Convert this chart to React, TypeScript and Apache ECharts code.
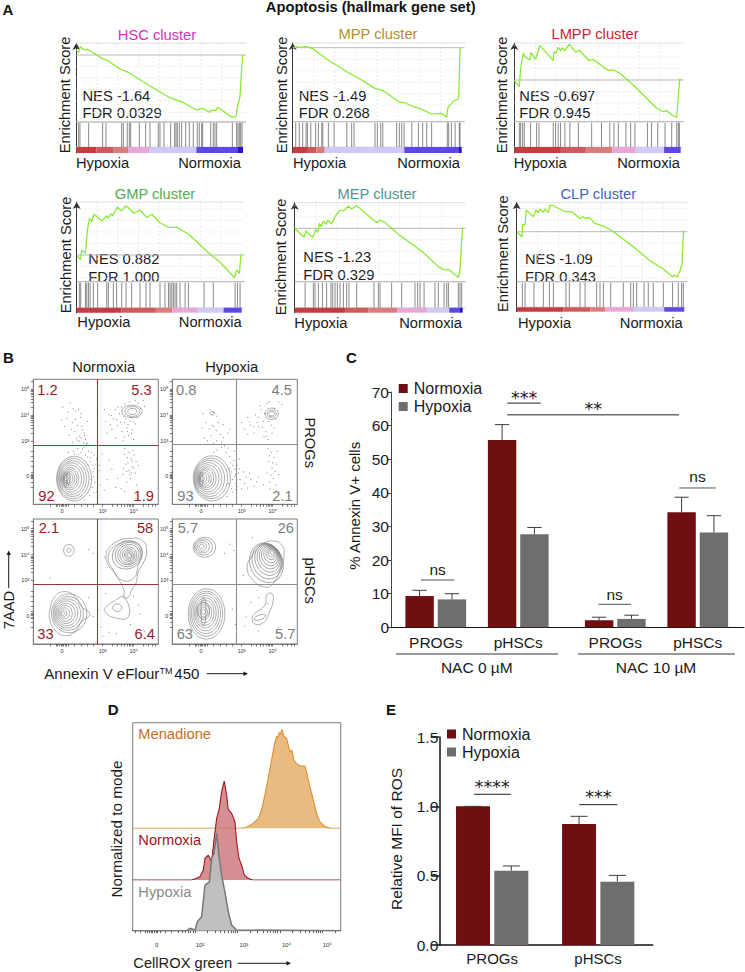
import React, { useEffect, useRef } from "react";
import * as echarts from "echarts";

const FONT = "Liberation Sans, Arial, sans-serif";
const RED = "#6f0f12";
const GREY = "#6e6e6e";

// ---------- Panel A: running enrichment scores [rank %, ES]
const hscCurve = [[0,.05],[1.4,.023],[2.4,.083],[4.6,.05],[6.6,.057],[10.2,.023],[15.2,-.033],[18.6,-.053],[26.2,-.14],[31.2,-.173],[40.2,-.267],[48.2,-.35],[56.2,-.427],[64.2,-.477],[72.2,-.55],[75.6,-.533],[79.8,-.573],[81,-.553],[83.8,-.553],[84.6,-.523],[88.2,-.56],[93.2,-.623],[95.8,-.613],[96.8,-.51],[98.2,-.417],[99,-.183],[99.8,0]];
const mppCurve = [[.4,0],[2.4,.01],[4.3,0],[7.3,.01],[10.3,0],[12.2,-.013],[20.1,-.113],[32,-.24],[41.8,-.333],[48.7,-.407],[53.6,-.43],[63.5,-.547],[66.5,-.55],[71.4,-.59],[75.3,-.607],[82.2,-.663],[88.2,-.657],[91.1,-.697],[91.9,-.597],[94.1,-.557],[95.5,-.53],[96.7,-.523],[98.2,-.513],[99,-.023],[99.4,0]];
const lmppCurve = [[0,-.007],[3,-.067],[3.8,.117],[5.4,.267],[6.4,.233],[9.4,.2],[10,.273],[12.8,.207],[15.4,.347],[23.4,.193],[23.8,.283],[25,.267],[26.4,.327],[27.8,.293],[29,.323],[30.4,.293],[33,.357],[37,.277],[39,.3],[45,.193],[47.4,.207],[55.9,.1],[59.9,.1],[63.9,.06],[71.5,-.05],[81.6,-.217],[85.6,-.283],[89.6,-.317],[91.6,-.307],[94.6,-.35],[97.6,-.373],[98.8,-.117],[99.4,.01],[100,0]];
const gmpCurve = [[.4,-.01],[2.4,-.047],[3,.05],[5.3,.017],[6.5,.25],[7.7,.367],[9.1,.333],[10.5,.407],[15.2,.34],[18.2,.393],[19.2,.367],[20.6,.413],[21.8,.393],[24.6,.477],[27.3,.44],[29.3,.487],[30.7,.483],[34.7,.417],[38.4,.45],[42.4,.373],[45.5,.407],[50.5,.323],[55.6,.277],[60.6,.277],[67.7,.21],[80.8,.007],[86.9,-.073],[95.6,-.227],[97,-.15],[98.6,-.183],[99.6,.007]];
const mepCurve = [[0,0],[5.6,-.09],[6.7,-.027],[10.7,-.093],[12.5,-.01],[13.7,-.04],[14.7,.05],[15.7,.017],[17.1,.073],[18.7,.04],[19.6,.083],[22,.043],[24,.117],[27,.183],[29,.173],[31.9,.22],[33.9,.193],[36.9,.227],[46.8,.083],[49.2,.057],[50.8,.083],[53.8,.057],[57.7,0],[62.7,-.073],[76.6,-.243],[85.5,-.383],[88.9,-.417],[91.5,-.41],[97.4,-.493],[98.4,-.417],[99.2,-.167],[100,.01]];
const clpCurve = [[0,0],[3.2,-.05],[3.6,.073],[5,.067],[5.6,.217],[10,.15],[11.5,.217],[12.9,.19],[13.9,.227],[15.9,.193],[16.9,.227],[18.9,.19],[19.9,.267],[21.9,.26],[26.8,.217],[28.8,.2],[32.8,.2],[37.8,.133],[39.8,.15],[40.8,.133],[43.3,.143],[46.7,.083],[52.7,.05],[57.7,0],[69.6,-.15],[79.5,-.29],[87.5,-.373],[93,-.45],[94.4,-.433],[95.8,-.45],[97.4,-.393],[98.6,-.327],[99.4,-.033],[99.8,.01]];

// gene hit positions (rank %)
const hscHits = [1.4,2.2,7.4,15.8,17.8,27.2,28.2,30.6,31.8,32.6,37.8,41.6,44.2,49.2,50.2,52.6,56.6,59,59.8,60.6,61.8,63.2,65.6,67.8,70.2,72.6,73.8,75.2,75.8,80.6,82.2,83.2,84.2,93.6,96.2,97,97.8,98.6,99.4];
const mppHits = [1.8,3.9,5.9,7.9,8.7,10.7,13.6,15.2,17.2,17.8,21.1,24.5,32,34.9,36.3,48.7,50.1,52.1,53.3,61.5,63.1,64.5,65.9,70.5,74.4,76.9,79.3,82.2,91.5,92.3,93.9,96.1,98.6,99];
const lmppHits = [3,3.8,5,6,9.8,13.4,14.8,23.4,24.8,26.4,27.8,30.4,33.4,38.5,46.5,52.4,57.4,59.9,62.5,67.1,69.9,72.5,80,82.5,86.2,90.6,94.6,97.6,98.6,99.2];
const gmpHits = [1.6,2.4,5.3,6.1,7.1,8.1,10.1,12.7,18.2,19.2,22.2,24.2,27.3,29.9,33.3,38.4,42,44.4,50.5,53.5,55.6,56.6,57.6,58.6,59.6,60.6,62.6,65.7,67.7,77.2,82.8,96,97.4,99];
const mepHits = [6.2,11.1,12.1,14.1,16.5,19,21.6,22.6,24,25.4,27,29,30.9,32.3,36.9,47.2,49.8,50.8,57.7,63.7,71.6,73.2,74.6,77,83.5,85.5,88.9,90.5,91.5,97.4,98.4,99.4];
const clpHits = [3.4,5,10.3,15.9,19.5,21.9,29.4,31.4,37.8,40.8,47.7,49.7,51.7,56.1,63.6,68,69.6,71.6,76,78.5,81.5,87.5,93,96.4,98.4,99.4];

// rank colour bar: [from %, to %, palette index]
const barPalette = ["#c63d3f", "#cf5a5c", "#da7d7d", "#e6a8d6", "#cfc9f8", "#5c48e2", "#2a12c6"];
const hscBar = [[0,12,0],[12,22,1],[22,31,2],[31,44,3],[44,72,4],[72,97,5],[97,100,6]];
const mppBar = [[0,9,0],[9,14,1],[14,19,2],[19,66,4],[66,98,5],[98,100,6]];
const lmppBar = [[0,28,0],[28,43,1],[43,59,2],[59,73,3],[73,90,4],[90,100,5]];
const gmpBar = [[0,27,0],[27,48,1],[48,58,2],[58,73,3],[73,89,4],[89,100,5]];
const mepBar = [[0,30,0],[30,44,1],[44,61,2],[61,79,3],[79,92,4],[92,98,5],[98,100,6]];
const clpBar = [[0,28,0],[28,44,1],[44,53,2],[53,70,3],[70,88,4],[88,100,5]];

const guideEs = [.46,.345,.23,.115,-.115,-.23,-.345,-.46,-.575];
const guideRank = [12.5,25,37.5,50,62.5,75,87.5];

const gseaPanels = [
  { title:"HSC cluster", color:"#d52fc4", nes:"NES -1.64", fdr:"FDR 0.0329", curve:hscCurve, hits:hscHits, bar:hscBar, x0:76.3,x1:243,top:43,zero:55,rug:122,barTop:147,bottom:153,tx:157,ty:34.5,ex:65,ey:95,nx:82.5,ny:96,fy:113,hx:76,nrx:241,ly:163 },
  { title:"MPP cluster", color:"#b0912a", nes:"NES -1.49", fdr:"FDR 0.268", curve:mppCurve, hits:mppHits, bar:mppBar, x0:292.7,x1:461.7,top:43,zero:47.7,rug:121.7,barTop:147,bottom:153,tx:378,ty:34,ex:282,ey:95,nx:298.7,ny:96,fy:113,hx:293,nrx:460,ly:163 },
  { title:"LMPP cluster", color:"#c9252f", nes:"NES -0.697", fdr:"FDR 0.945", curve:lmppCurve, hits:lmppHits, bar:lmppBar, x0:514.3,x1:680.7,top:43,zero:80,rug:121.7,barTop:147,bottom:153,tx:595,ty:34,ex:501.7,ey:95,nx:519.3,ny:96,fy:113,hx:513.7,nrx:680,ly:163 },
  { title:"GMP cluster", color:"#52ab55", nes:"NES 0.882", fdr:"FDR 1.000", curve:gmpCurve, hits:gmpHits, bar:gmpBar, x0:76.7,x1:241.7,top:202,zero:255,rug:281.7,barTop:307.7,bottom:312.7,tx:155,ty:194,ex:65.7,ey:255,nx:88.3,ny:259,fy:276.7,hx:77.3,nrx:241.7,ly:322.3 },
  { title:"MEP cluster", color:"#4d9596", nes:"NES -1.23", fdr:"FDR 0.329", curve:mepCurve, hits:mepHits, bar:mepBar, x0:294.7,x1:462.7,top:202.7,zero:228.3,rug:281.7,barTop:307.7,bottom:312.7,tx:377,ty:194,ex:280.7,ey:257,nx:303.3,ny:257.3,fy:275,hx:294.3,nrx:462,ly:323 },
  { title:"CLP cluster", color:"#3f64ba", nes:"NES -1.09", fdr:"FDR 0.343", curve:clpCurve, hits:clpHits, bar:clpBar, x0:516.7,x1:684.3,top:202.3,zero:231.7,rug:281.7,barTop:307.2,bottom:311.7,tx:598.3,ty:193.7,ex:503.3,ey:253.7,nx:525,ny:259,fy:276.7,hx:518,nrx:682.7,ly:323 },
];

// ---------- Panel B: flow plots, axes in decades (log10)
const flowXTicks = [1.3,1.5,1.55,1.6,1.65,1.69,1.73,1.78,1.83,1.9,2.1,2.3,2.5,2.7,3,3.3,3.48,3.6,3.7,3.78,3.85,3.9,3.95,4,4.3,4.48,4.6,4.7];
const flowYTicks = [1.2,1.4,1.55,1.6,1.64,1.68,1.72,1.8,2,2.2,2.4,2.6,3,3.3,3.48,3.6,3.7,3.78,3.85,3.9,3.95,4,4.3,4.48,4.6,4.7,4.78,4.85,4.9,4.95,5,5.3];
const flowXLabels = { "1.69":"0", "3.00":"10³", "4.00":"10⁴" };
const flowYLabels = { "1.64":"0", "3.00":"10³", "4.00":"10⁴", "5.00":"10⁵" };

const progNormDots = [[1.72,4.3],[1.95,4.45],[2.12,4.15],[2.22,4.2],[2.3,4.05],[1.85,3.85],[2.02,3.7],[1.78,3.55],[2.18,3.6],[2.35,3.42],[2.1,3.35],[2.26,3.18],[1.92,3.22],[2.45,3.05],[2.2,3.02],[2.38,2.92],[2.02,2.95],[1.68,3.8],[2.5,3.75],[2.05,4.25],[2.28,3.9],[2.4,3.3],[2.15,3.1],[2.3,3.12],[2.42,3.2],[2.33,3.55],[2.12,3.82],[1.88,4.1],[2.0,3.45],[2.25,2.98],[2.48,2.88],
[3.05,4.2],[3.2,4],[3.1,3.75],[3.35,3.85],[3.48,3.6],[3.55,4.05],[3.62,3.35],[3.7,3.7],[3.78,3.5],[3.84,3.2],[3.9,3.9],[3.95,3.42],[4.05,3.65],[4.15,4.45],[4.22,4.25],[4.3,4.55],[3.72,4.42],[3.6,4.3],[3.3,3.45],[3.42,3.1],[3.15,3.3],[4,3.05],[3.66,3],[3.4,4.2],[3.25,3.62],[3.88,3.75],[3.8,3.35],[4.1,3.9],[3.58,3.72],[3.5,4.3],[3.68,3.92],[3.75,3.85],[3.82,3.62],[3.93,3.28],[3.45,3.82],[3.28,3.98],[3.98,3.72],[3.86,4.5],[4.05,4.55],[4.35,4.32],[3.7,3.15],
[3.72,2.7],[3.85,2.55],[3.92,2.3],[4.02,2.45],[3.75,2.1],[3.95,2],[3.85,1.85],[4.05,1.75],[3.68,1.95],[3.9,1.55],[3.78,1.4],[4.1,1.3],[3.6,1.15],[3.3,1.9],[3.15,1.5],[3.05,1.1],[3.42,1.2],[4.15,2.05],[2.9,2.05],[2.98,2.5],[3.98,2.62],[3.8,2.35],[3.88,1.7],[4,1.95],[3.82,2.15],[3.78,1.82],[3.92,1.78],[3.95,2.22],[4.08,2.2],[3.7,2.48],[3.65,1.7],[3.2,2.25],[3.48,1.55],[3.7,1.05],
[2.4,2.75],[2.55,2.6],[2.3,2.55],[2.62,2.35],[2.72,2.45],[2.78,2.1],[2.7,1.8],[2.85,1.6],[2.66,1.2],[2.82,1.05],[2.5,2.9],[2.2,2.7],[2.05,2.6],[2.45,2.45],[2.68,2.05],[2.75,1.4],[1.9,2.55],[2.35,2.68],[2.6,2.2],[2.65,2.55],[2.52,2.38],[2.7,1.62],[2.74,1.92],[2.58,.88],[2.72,1],[2.42,.72],[2.1,2.5],[2.22,2.48],[2.8,2.3],[2.88,1.85],[2.92,1.3],[2.62,1.52]];
const progHypoDots = [[1.75,4.05],[1.98,4.2],[2.1,4.1],[2.18,3.95],[1.85,3.7],[1.72,3.5],[1.95,3.45],[2.1,3.55],[2.25,3.7],[2.4,3.62],[2.55,3.3],[2.3,3.25],[2.02,3.2],[1.8,3.1],[2.2,3],[2.35,2.95],[2.62,3.45],[2.1,2.9],[2.05,3.6],[2.18,3.4],[1.9,3.0],[2.42,3.12],
[3,3.7],[3.1,3.45],[3.2,3.9],[3.3,3.6],[3.4,3.3],[3.45,4],[3.55,3.55],[3.62,4.2],[3.7,3.75],[3.78,3.35],[3.82,4.45],[3.9,4.5],[3.95,3.6],[4.05,4.25],[4.1,3.85],[4.2,4.5],[4.3,4.4],[3.72,3.15],[3.85,3.05],[3.98,3.3],[3.55,3.9],[3.2,3.25],[4.05,3.5],[3.88,3.75],[3.6,4.35],[3.75,4.05],[3.68,3.52],[3.5,3.72],[3.25,3.75],[3.92,3.95],[3.8,3.18],[3.4,3.55],
[3.85,2.7],[3.95,2.55],[4.05,2.35],[3.88,2.2],[4.12,2.1],[3.98,1.95],[3.82,1.75],[4.2,1.7],[4.02,1.55],[3.9,1.4],[4.1,1.3],[4.15,2.6],[3.92,1.15],[4,2.15],[3.9,2.42],[4.08,1.82],[3.95,1.68],
[2.8,1.7],[2.95,1.5],[3.1,1.35],[3.25,1.75],[3.4,1.25],[3.55,1.6],[3.7,1.3],[3.05,1.8],[2.85,1.25],[3.3,1.5],[3.15,1.6],[3.48,1.42],[3,1.15],[3.2,1.18],[2.92,1.92],
[2.35,2.75],[2.5,2.55],[2.62,2.4],[2.75,2.25],[2.85,2.05],[2.78,1.9],[2.9,1.75],[2.7,1.5],[2.68,1.15],[2.82,1.35],[2.2,2.65],[2.45,2.8],[2.92,2.3],[2.76,2.6],[2.68,1.8],[2.72,2.05],[2.64,2.15],[2.58,1.35],[2.7,1.02],[2.52,.85],[2.78,1.62],[2.55,2.72],[2.1,2.55],[2.62,1.95],[2.82,1.12]];
const hscNormDots = [[2.55,4.2],[2.7,4.05],[1.3,3.1],[3.05,3.9],[2.55,2.35],[2.7,1.6],[2.95,1.2],[3.2,1],[3.45,.95],[4,2.4],[4.2,1.7],[3.9,1.3],[4.35,1.05],[3.1,2.5],[2.85,1.85],[3,.85],[4.15,2.05]];
const hscHypoDots = [[2.62,4.4],[2.45,4.05],[2.75,4.15],[3.35,4.65],[3.05,3.2],[3.15,1.6],[3.3,2.15],[3.55,2.35],[3.85,2.1],[3.1,1.25],[3.55,1.05],[4.2,1.2],[2.7,1.9],[2.8,1.3]];

// contour rings [cx, cy, rx, ry, rotation°]
const progNormRings = [[2.08,1.54,.565,.865,0],[2.05,1.54,.51,.78,0],[2.03,1.54,.45,.69,0],[2,1.54,.4,.61,0],[1.98,1.54,.34,.52,0],[1.95,1.54,.28,.43,0],[1.93,1.54,.24,.36,0],[1.91,1.54,.19,.29,0],[1.89,1.54,.15,.22,0],[1.86,1.54,.1,.16,0],[1.84,1.54,.06,.09,0],[1.8,1.5,.05,.3,0],[1.9,1.55,.05,.25,0],[3.95,4.13,.33,.24,0],[3.96,4.13,.24,.19,0],[3.96,4.13,.15,.12,0]];
const progHypoRings = [[2.04,1.55,.6,.87,0],[2.01,1.55,.54,.78,0],[1.97,1.55,.48,.7,0],[1.94,1.55,.42,.61,0],[1.91,1.55,.36,.52,0],[1.875,1.55,.3,.435,0],[1.85,1.55,.25,.365,0],[1.82,1.55,.2,.3,0],[1.8,1.55,.156,.226,0],[1.77,1.55,.108,.157,0],[1.74,1.55,.06,.087,0],[1.7,1.5,.05,.3,0],[3.97,4.04,.215,.22,0],[3.97,4.04,.15,.14,0],[3.97,4.04,.1,.08,0],[2.05,4.06,.08,.07,0]];
const hscNormRings = [[1.91,4.16,.17,.23,0],[1.91,4.16,.07,.08,0],[1.92,1.73,.57,.75,0],[1.89,1.73,.49,.65,0],[1.865,1.73,.43,.56,0],[1.84,1.73,.36,.48,0],[1.815,1.73,.3,.39,0],[1.79,1.73,.23,.31,0],[1.765,1.73,.17,.22,0],[1.74,1.73,.1,.14,0],[1.72,1.73,.05,.07,0],[3.8,3.98,.5,.52,30],[3.82,4,.42,.45,30],[3.83,4,.35,.38,30],[3.83,3.98,.27,.32,30],[3.84,3.98,.2,.25,30],[3.85,3.97,.14,.2,30],[3.85,3.97,.09,.14,30],[3.86,3.97,.05,.09,30],[3.47,1.95,.15,.15,0]];
const hscHypoRings = [[1.8,4.28,.36,.385,0],[1.77,4.29,.29,.31,0],[1.74,4.3,.22,.24,0],[1.72,4.3,.15,.17,0],[1.71,4.31,.08,.09,0],[3.8,3.68,.53,.78,20],[3.82,3.74,.47,.7,20],[3.85,3.8,.41,.62,20],[3.87,3.85,.36,.54,20],[3.89,3.9,.31,.46,20],[3.91,3.94,.26,.38,20],[3.93,3.98,.21,.3,20],[3.95,4.02,.16,.22,20],[3.96,4.05,.11,.15,20],[3.97,4.07,.06,.08,20],[1.87,1.71,.59,.97,0],[1.86,1.72,.53,.87,0],[1.85,1.73,.47,.78,0],[1.84,1.74,.41,.68,0],[1.83,1.75,.35,.58,0],[1.815,1.755,.295,.485,0],[1.8,1.76,.235,.39,0],[1.79,1.77,.18,.29,0],[1.78,1.78,.12,.19,0],[1.77,1.79,.06,.1,0],[1.77,1.8,.08,.55,0],[1.76,1.85,.2,.3,0],[3.59,1.58,.2,.09,20]];

// irregular contours [[x, y], ...]
const hscNormPolys = [
  [[1.3,1.86],[1.46,2.375],[1.785,2.57],[2.11,2.375],[2.32,1.99],[2.59,1.7],[2.32,1.41],[2.11,1.03],[1.785,.87],[1.46,1.09],[1.3,1.475]],
  [[3.11,3.98],[3.24,4.3],[3.505,4.53],[3.88,4.62],[4.26,4.56],[4.42,4.17],[4.33,3.72],[4.15,3.34],[4.075,2.89],[3.935,2.63],[3.83,2.35],[3.69,2.35],[3.69,2.63],[3.4,3.27],[3.18,3.6]],
  [[3.18,3.92],[3.45,4.37],[3.99,4.5],[4.26,4.17],[4.15,3.6],[3.99,3.08],[3.61,3.02],[3.34,3.41]],
  [[3.075,1.92],[3.34,2.18],[3.69,2.35],[3.83,1.6],[3.34,1.58],[3.075,1.8]],
];
const hscHypoPolys = [
  [[3.18,3.47],[3.32,3.92],[3.645,4.37],[3.97,4.52],[4.29,4.37],[4.37,3.98],[4.24,3.4],[3.97,2.82],[3.7,2.76],[3.38,2.99]],
  [[3.34,1.54],[3.43,1.73],[3.75,2.05],[3.81,2.44],[3.97,2.5],[4.02,2.25],[3.86,1.67],[3.7,1.37],[3.43,1.32]],
];

const flowPlots = [
  { x0:33.3,y0:379.3, q:[2.82,2.84], accent:"#9b3438", textColor:"#9a1b1e", labels:["1.2","5.3","92","1.9"], lx:[37.3,151.7,38.3,154], ly:[390,496], dots:progNormDots, rings:progNormRings, polys:[] },
  { x0:172.3,y0:379.3, q:[2.83,2.86], accent:"#8d8d8d", textColor:"#7d7d7d", labels:["0.8","4.5","93","2.1"], lx:[176,292,177.3,292.7], ly:[390,496], dots:progHypoDots, rings:progHypoRings, polys:[] },
  { x0:33.3,y0:519, q:[2.82,2.85], accent:"#9b3438", textColor:"#9a1b1e", labels:["2.1","58","33","6.4"], lx:[38.7,153.3,37.3,155], ly:[527.7,634.3], dots:hscNormDots, rings:hscNormRings, polys:hscNormPolys },
  { x0:172.3,y0:519, q:[2.83,2.85], accent:"#8d8d8d", textColor:"#7d7d7d", labels:["5.7","26","63","5.7"], lx:[177.7,294,176.7,295.3], ly:[527.7,634.3], dots:hscHypoDots, rings:hscHypoRings, polys:hscHypoPolys },
];

// ---------- Panel C
const annexinX = { normoxia:[1.77,6.87,12.87,17.97], hypoxia:[3.77,8.87,14.87,19.97] };
const annexinNorm = [9.3,55.7,2.1,34.2];
const annexinNormErr = [11,60.3,3,38.7];
const annexinHypo = [8.3,27.7,2.5,28.2];
const annexinHypoErr = [10,29.7,3.6,33.2];
const annexinLabelX = [2.77,7.87,13.87,18.97];
const annexinLabels = ["PROGs","pHSCs","PROGs","pHSCs"];
const annexinSig = [[7.19,9.26,66.7,"***",8],[7.19,17.81,63.2,"**",8.7],[1.855,3.915,14.07,"ns",11],[12.82,14.84,6.84,"ns",10],[17.83,20.08,41.45,"ns",11]];

// ---------- Panel D: histograms [decade, % of mode]
const menadioneHist = [[.531,0],[3.1,0],[3.218,1],[3.375,5],[3.493,10],[3.571,18.5],[3.65,33.7],[3.728,50.5],[3.807,69],[3.87,84],[3.925,93],[3.96,92],[3.987,96.6],[4.02,95],[4.05,100],[4.097,93],[4.16,91],[4.239,77],[4.286,79],[4.333,69],[4.412,64.7],[4.49,63],[4.592,63],[4.647,53.9],[4.71,42],[4.789,28.6],[4.867,15],[4.946,6.7],[5.064,1.7],[5.197,0],[5.433,0]];
const normoxiaHist = [[.531,0],[1.921,0],[2.039,1.7],[2.118,3.4],[2.196,10],[2.236,22],[2.314,25],[2.393,18.5],[2.448,40.4],[2.511,62],[2.573,72.4],[2.628,89],[2.691,100],[2.746,86],[2.786,71],[2.864,67.3],[2.943,59],[2.982,38.7],[3.037,22],[3.1,15],[3.163,5],[3.257,1.7],[3.351,0],[5.433,0]];
const hypoxiaHist = [[.531,0],[1.804,0],[1.882,2.4],[2,.7],[2.055,9],[2.157,14],[2.236,46],[2.338,49],[2.393,73],[2.448,78],[2.511,98],[2.573,73],[2.628,56],[2.707,39],[2.786,19],[2.864,5.7],[2.982,.7],[5.433,0]];
const rosTicks = [.6,.7,.82,.88,.92,.96,1,1.04,1.08,1.12,1.175,1.3,1.45,1.6,1.7,1.78,1.85,1.9,1.95,2,2.3,2.48,2.6,2.7,2.78,2.85,2.9,2.95,3,3.3,3.48,3.6,3.7,3.78,3.85,3.9,3.95,4,4.3,4.48,4.6,4.7,4.78,4.85,4.9,4.95,5,5.3];
const rosLabelX = [1.097,2.118,3.155,4.16,5.12];
const rosLabels = ["0","10²","10³","10⁴","10⁵"];

// ---------- Panel E
const mfiX = { normoxia:[1.76,7.295], hypoxia:[3.76,9.295] };
const mfiNorm = [1,.873];
const mfiNormErr = [1,.928];
const mfiHypo = [.536,.457];
const mfiHypoErr = [.57,.502];
const mfiLabelX = [2.76,8.29];
const mfiLabels = ["PROGs","pHSCs"];
const mfiSig = [[1.81,3.73,1.087,"****",10],[7.31,9.295,1.012,"***",10.5]];

function txt(text: string, x: number, y: number, o: any = {}) {
  const { rotation, ...style } = o;
  return {
    type: "text", x, y, rotation: rotation || 0, silent: true,
    style: { text, fill: "#1a1a1a", fontSize: 14.7, fontFamily: FONT, align: "left", verticalAlign: "middle", ...style },
  };
}
function seg(x1: number, y1: number, x2: number, y2: number, stroke: string, lineWidth = 1) {
  return { type: "line", silent: true, shape: { x1, y1, x2, y2 }, style: { stroke, lineWidth } };
}
function tri(points: number[][], fill = "#1a1a1a") {
  return { type: "polygon", silent: true, shape: { points }, style: { fill } };
}

function buildOption() {
  const grid: any[] = [], xAxis: any[] = [], yAxis: any[] = [], series: any[] = [], graphic: any[] = [];
  const add = (g: any, x: any, y: any) => {
    const i = grid.length;
    grid.push({ containLabel: false, ...g });
    xAxis.push({ gridIndex: i, type: "value", splitLine: { show: false }, ...x });
    yAxis.push({ gridIndex: i, type: "value", splitLine: { show: false }, ...y });
    return { xAxisIndex: i, yAxisIndex: i };
  };
  const head = (t: string, x: number, y: number) =>
    graphic.push(txt(t, x, y, { fontWeight: "bold", fontSize: 15, fill: "#111" }));

  head("A", 2.5, 9); head("B", 3, 357); head("C", 346, 357); head("D", 107.7, 709); head("E", 386, 709);
  graphic.push(txt("Apoptosis (hallmark gene set)", 370.7, 7.3, { fontWeight: "bold", fontSize: 14.7, align: "center", fill: "#111" }));

  // ---- A
  gseaPanels.forEach((p) => {
    const yMax = (p.zero - p.top) / 100, yMin = -(p.bottom - p.zero) / 100;
    const rugEs = -(p.rug - p.zero) / 100, barEs = -(p.barTop - p.zero) / 100;
    const ax = add(
      { left: p.x0, top: p.top, width: p.x1 - p.x0, height: p.bottom - p.top },
      { min: 0, max: 100, show: false },
      { min: yMin, max: yMax, axisLabel: { show: false }, axisTick: { show: false },
        axisLine: { show: true, symbol: ["none", "arrow"], symbolSize: [6, 7], lineStyle: { color: "#333", width: 1 } } }
    );
    series.push({
      type: "custom", ...ax, silent: true, z: 1, encode: { x: 0, y: 1 },
      data: guideEs.filter((e) => e < yMax && e > rugEs).map((e) => [0, e]),
      renderItem: (_: any, api: any) => {
        const a = api.coord([0, api.value(1)]), b = api.coord([100, api.value(1)]);
        return { type: "line", shape: { x1: a[0], y1: a[1], x2: b[0] + 3, y2: b[1] }, style: { stroke: "#e6e6e6", lineWidth: 0.8, lineDash: [2, 2] } };
      },
    });
    series.push({
      type: "custom", ...ax, silent: true, z: 1, encode: { x: 0, y: 1 },
      data: guideRank.map((r) => [r, yMax]),
      renderItem: (_: any, api: any) => {
        const a = api.coord([api.value(0), yMax]), b = api.coord([api.value(0), rugEs]);
        return { type: "line", shape: { x1: a[0], y1: a[1], x2: b[0], y2: b[1] }, style: { stroke: "#e6e6e6", lineWidth: 0.8, lineDash: [2, 2] } };
      },
    });
    series.push({
      type: "custom", ...ax, silent: true, z: 2, encode: { x: 0, y: 1 },
      data: [[0, yMax, 0], [0, 0, 1], [0, rugEs, 2], [0, barEs, 0]],
      renderItem: (_: any, api: any) => {
        const a = api.coord([0, api.value(1)]), b = api.coord([100, api.value(1)]);
        const k = api.value(2);
        return { type: "line", shape: { x1: a[0], y1: a[1], x2: b[0] + 3, y2: b[1] }, style: { stroke: ["#e0e0e0", "#b9b9b9", "#bdbdbd"][k], lineWidth: k === 2 ? 1.3 : 1 } };
      },
    });
    series.push({
      type: "custom", ...ax, silent: true, z: 3, encode: { x: 0, y: 1 },
      data: p.hits.map((r) => [r, rugEs]),
      renderItem: (_: any, api: any) => {
        const a = api.coord([api.value(0), rugEs]), b = api.coord([api.value(0), barEs]);
        return { type: "line", shape: { x1: a[0], y1: a[1] + 1, x2: b[0], y2: b[1] }, style: { stroke: "#3a3a3a", opacity: 0.6, lineWidth: 1 } };
      },
    });
    series.push({
      type: "custom", ...ax, silent: true, z: 3, encode: { x: 0, y: 1 },
      data: p.bar.map((b) => [b[0], barEs, b[1], b[2]]),
      renderItem: (_: any, api: any) => {
        const a = api.coord([api.value(0), barEs]), b = api.coord([api.value(2), yMin]);
        return { type: "rect", shape: { x: a[0], y: a[1], width: b[0] - a[0], height: b[1] - a[1] }, style: { fill: barPalette[api.value(3)] } };
      },
    });
    series.push({
      type: "line", ...ax, z: 4, data: p.curve, symbol: "none", silent: true,
      lineStyle: { color: "#86ea2e", width: 1.25 },
    });
    graphic.push(txt(p.title, p.tx, p.ty, { align: "center", fill: p.color }));
    graphic.push(txt("Enrichment Score", p.ex, p.ey, { align: "center", rotation: Math.PI / 2 }));
    graphic.push(txt(p.nes, p.nx, p.ny));
    graphic.push(txt(p.fdr, p.nx, p.fy));
    graphic.push(txt("Hypoxia", p.hx, p.ly));
    graphic.push(txt("Normoxia", p.nrx, p.ly, { align: "right" }));
  });

  // ---- B
  flowPlots.forEach((p) => {
    const ax = add(
      { left: p.x0, top: p.y0, width: 125, height: 125, show: true, borderColor: "#7c7c7c", borderWidth: 1, backgroundColor: "transparent" },
      { min: .764, max: 4.796,
        axisLine: { show: true, onZero: false, lineStyle: { color: "#7c7c7c" } },
        axisTick: { show: true, length: 2.5, customValues: flowXTicks, lineStyle: { color: "#333", width: 0.6 } },
        axisLabel: { show: true, customValues: [1.69, 3, 4], fontSize: 5.5, color: "#333", fontFamily: FONT, margin: 4,
          formatter: (v: number) => (flowXLabels as any)[v.toFixed(2)] ?? "" } },
      { min: .55, max: 5.37,
        axisLine: { show: true, onZero: false, lineStyle: { color: "#7c7c7c" } },
        axisTick: { show: true, length: 2.5, customValues: flowYTicks, lineStyle: { color: "#333", width: 0.6 } },
        axisLabel: { show: true, customValues: [1.64, 3, 4, 5], fontSize: 5.5, color: "#333", fontFamily: FONT, margin: 4,
          formatter: (v: number) => (flowYLabels as any)[v.toFixed(2)] ?? "" } }
    );
    series.push({
      type: "scatter", ...ax, data: p.dots, symbolSize: 1, silent: true, z: 2,
      itemStyle: { color: "#4a4a4a" },
      markLine: {
        silent: true, symbol: "none", animation: false, label: { show: false },
        lineStyle: { color: p.accent, width: 1.1, type: "solid" },
        data: [{ xAxis: p.q[0] }, { yAxis: p.q[1] }],
      },
    });
    series.push({
      type: "custom", ...ax, silent: true, z: 3, encode: { x: 0, y: 1 }, data: p.rings,
      renderItem: (_: any, api: any) => {
        const c = api.coord([api.value(0), api.value(1)]);
        const s = api.size([1, 1]);
        return {
          type: "ellipse", x: c[0], y: c[1], rotation: (api.value(4) * Math.PI) / 180,
          shape: { cx: 0, cy: 0, rx: api.value(2) * s[0], ry: api.value(3) * s[1] },
          style: { fill: "none", stroke: "#6e6e6e", lineWidth: 0.55 },
        };
      },
    });
    if (p.polys.length) {
      series.push({
        type: "custom", ...ax, silent: true, z: 3, encode: { x: 0, y: 1 },
        data: p.polys.map((q: number[][], i: number) => [q[0][0], q[0][1], i]),
        renderItem: (_: any, api: any) => {
          const q = (p.polys as number[][][])[api.value(2)];
          return {
            type: "polygon",
            shape: { points: q.map((d) => api.coord(d)), smooth: 0.5 },
            style: { fill: "none", stroke: "#7a7a7a", lineWidth: 0.6 },
          };
        },
      });
    }
    p.labels.forEach((t, i) => {
      graphic.push(txt(t, p.lx[i], p.ly[i < 2 ? 0 : 1], { fill: p.textColor, align: i % 2 ? "right" : "left" }));
    });
  });
  graphic.push(txt("Normoxia", 103.7, 366.7, { align: "center" }));
  graphic.push(txt("Hypoxia", 231.7, 366.7, { align: "center" }));
  graphic.push(txt("PROGs", 310, 442.7, { align: "center", rotation: -Math.PI / 2 }));
  graphic.push(txt("pHSCs", 310, 580.7, { align: "center", rotation: -Math.PI / 2 }));
  graphic.push(txt("7AAD", 9, 610, { align: "center", rotation: Math.PI / 2 }));
  graphic.push(seg(8.7, 588, 8.7, 553, "#1a1a1a"));
  graphic.push(tri([[8.7, 550.5], [6.5, 555], [10.9, 555]]));
  graphic.push(txt("Annexin V eFlour", 44.3, 673.7, { fontSize: 15 }));
  graphic.push(txt("TM", 159.5, 671, { fontSize: 9 }));
  graphic.push(txt("450", 174.3, 673.7, { fontSize: 15 }));
  graphic.push(seg(206.7, 673.7, 245, 673.7, "#1a1a1a"));
  graphic.push(tri([[248, 673.7], [243.5, 671.5], [243.5, 675.9]]));

  const barPanel = (
    geo: any, xMax: number, yMax: number, yInterval: number, yFmt: any,
    labelX: number[], labels: string[], nx: number[], nv: number[], ne: number[], hx: number[], hv: number[], he: number[],
    sig: any[], barW: number, capW: number, catSize: number, axisW: number, tickLen: number, axisColor: string, labelMargin: number, tickMargin: number
  ) => {
    const ax = add(
      geo,
      { min: 0, max: xMax,
        axisLine: { show: true, onZero: false, lineStyle: { color: "#111", width: axisW } },
        axisTick: { show: false },
        axisLabel: { show: true, customValues: labelX, fontSize: catSize, color: "#1a1a1a", fontFamily: FONT, margin: labelMargin,
          formatter: (v: number) => labels[labelX.indexOf(v)] ?? "" } },
      { min: 0, max: yMax, interval: yInterval,
        axisLine: { show: true, onZero: false, lineStyle: { color: axisColor, width: axisW } },
        axisTick: { show: true, length: tickLen, lineStyle: { color: axisColor, width: axisW } },
        axisLabel: { show: true, fontSize: 15.5, color: "#1a1a1a", fontFamily: FONT, margin: tickMargin, formatter: yFmt } }
    );
    const bar = (name: string, color: string, xs: number[], vs: number[]) => ({
      type: "bar", name, ...ax, data: xs.map((x, i) => [x, vs[i]]), barWidth: barW, barGap: "-100%",
      itemStyle: { color }, silent: true, z: 2,
    });
    series.push(bar("Normoxia", RED, nx, nv));
    series.push(bar("Hypoxia", GREY, hx, hv));
    const err = (xs: number[], vs: number[], es: number[]) => ({
      type: "custom", ...ax, silent: true, z: 3, encode: { x: 0, y: 2 },
      data: xs.map((x, i) => [x, vs[i], es[i]]),
      renderItem: (_: any, api: any) => {
        const a = api.coord([api.value(0), api.value(1)]), b = api.coord([api.value(0), api.value(2)]);
        const style = { stroke: "#3d3d3d", lineWidth: 1 };
        return { type: "group", children: [
          { type: "line", shape: { x1: a[0], y1: a[1], x2: b[0], y2: b[1] }, style },
          { type: "line", shape: { x1: b[0] - capW / 2, y1: b[1], x2: b[0] + capW / 2, y2: b[1] }, style },
        ] };
      },
    });
    series.push(err(nx, nv, ne));
    series.push(err(hx, hv, he));
    series.push({
      type: "custom", ...ax, silent: true, z: 3, encode: { x: 0, y: 2 },
      data: sig.map((s, i) => [s[0], s[1], s[2], i]),
      renderItem: (_: any, api: any) => {
        const a = api.coord([api.value(0), api.value(2)]), b = api.coord([api.value(1), api.value(2)]);
        const s = sig[api.value(3)];
        const star = String(s[3]).includes("*");
        return { type: "group", children: [
          { type: "line", shape: { x1: a[0], y1: a[1], x2: b[0], y2: b[1] }, style: { stroke: star ? "#222" : "#555", lineWidth: 1 } },
          { type: "text", style: { text: s[3], x: (a[0] + b[0]) / 2, y: a[1] - s[4] + (star ? 3 : 0), align: "center", verticalAlign: "middle", fill: "#1a1a1a",
            fontSize: star ? 17.5 : 15.5, fontWeight: "normal", fontFamily: star ? "DejaVu Sans" : FONT } },
        ] };
      },
    });
  };

  // ---- C
  barPanel({ left: 391, top: 392, width: 353, height: 235.3 }, 21.83, 70, 10, undefined,
    annexinLabelX, annexinLabels, annexinX.normoxia, annexinNorm, annexinNormErr, annexinX.hypoxia, annexinHypo, annexinHypoErr,
    annexinSig, 28.4, 14.3, 15.5, 1, 4, "#444", 7, 2);
  graphic.push(txt("% Annexin V+ cells", 354, 505.8, { align: "center", rotation: Math.PI / 2, fontSize: 15 }));
  graphic.push(seg(396, 654, 558, 654, "#777", 1.3));
  graphic.push(seg(578, 654, 735, 654, "#777", 1.3));
  graphic.push(txt("NAC 0 µM", 476.8, 667, { align: "center", fontSize: 15.5 }));
  graphic.push(txt("NAC 10 µM", 656, 667, { align: "center", fontSize: 15.5 }));

  // ---- E
  barPanel({ left: 439.3, top: 737, width: 213.4, height: 208 }, 11.14, 1.5, 0.5, (v: number) => v.toFixed(1),
    mfiLabelX, mfiLabels, mfiX.normoxia, mfiNorm, mfiNormErr, mfiX.hypoxia, mfiHypo, mfiHypoErr,
    mfiSig, 34, 17, 15, 1.5, 8, "#111", 6, 1);
  graphic.push(txt("Relative MFI of ROS", 396, 839, { align: "center", rotation: Math.PI / 2, fontSize: 15.5 }));

  // ---- D
  const dFrame = { left: 132.7, width: 208 };
  const dMin = .531, dMax = 5.437;
  add(
    { ...dFrame, top: 722.7, height: 208, show: true, borderColor: "#7c7c7c", borderWidth: 1, backgroundColor: "transparent" },
    { min: dMin, max: dMax,
      axisLine: { show: true, onZero: false, lineStyle: { color: "#444" } },
      axisTick: { show: true, length: 2.5, customValues: rosTicks, lineStyle: { color: "#222", width: 0.7 } },
      axisLabel: { show: true, customValues: rosLabelX, fontSize: 6, color: "#333", fontFamily: FONT, margin: 11,
        formatter: (v: number) => rosLabels[rosLabelX.indexOf(v)] ?? "" } },
    { min: 0, max: 1, show: false }
  );
  const hist = (data: number[][], base: number, line: string, area: string, areaOp: number, z: number, width: number) => {
    const ax = add(
      { ...dFrame, top: base - 99, height: 99 },
      { min: dMin, max: dMax, show: false },
      { min: 0, max: 100, show: false }
    );
    series.push({
      type: "line", ...ax, data, symbol: "none", silent: true, z,
      lineStyle: { color: line, width }, areaStyle: { color: area, opacity: areaOp },
    });
  };
  hist(menadioneHist, 828.3, "#dd8f33", "#e9bb80", 1, 2, 1.1);
  hist(normoxiaHist, 880, "#a3161c", "#c76a6f", 0.75, 3, 1.1);
  hist(hypoxiaHist, 930.7, "#777", "#bdbdbd", 0.95, 4, 1.5);
  graphic.push(txt("Menadione", 138.3, 734.3, { fill: "#c4701f" }));
  graphic.push(txt("Normoxia", 138.3, 840, { fill: "#a3161c" }));
  graphic.push(txt("Hypoxia", 138.3, 891.7, { fill: "#8a8a8a" }));
  graphic.push(txt("Normalized to mode", 116.7, 829, { align: "center", rotation: Math.PI / 2, fontSize: 15.3 }));
  graphic.push(txt("CellROX green", 133.3, 962.7));
  graphic.push(seg(237.7, 963.3, 288, 963.3, "#1a1a1a"));
  graphic.push(tri([[291, 963.3], [286.5, 961.1], [286.5, 965.5]]));

  const legendBase = {
    orient: "vertical", itemWidth: 9, itemHeight: 9, itemGap: 2, selectedMode: false, icon: "rect", padding: 0,
    data: ["Normoxia", "Hypoxia"],
    textStyle: { fontSize: 16, color: "#1a1a1a", fontFamily: FONT, padding: [0, 0, 0, 1] },
  };

  return {
    animation: false, backgroundColor: "#fff", textStyle: { fontFamily: FONT },
    grid, xAxis, yAxis, series,
    graphic: { elements: graphic },
    legend: [
      { ...legendBase, left: 398.7, top: 380.5 },
      { ...legendBase, left: 447, top: 726 },
    ],
  };
}

export default function App() {
  const ref = useRef<HTMLDivElement>(null);
  useEffect(() => {
    const chart = echarts.init(ref.current!, undefined, { renderer: "svg" });
    chart.setOption(buildOption() as any);
    return () => chart.dispose();
  }, []);
  return <div ref={ref} style={{ position: "absolute", left: 0, top: 0, width: 745, height: 972 }} />;
}
